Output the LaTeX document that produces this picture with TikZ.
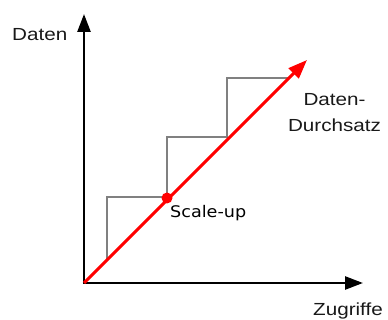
\documentclass[tikz,border=0pt]{standalone}
\usepackage{fontspec}
\usetikzlibrary{arrows.meta}
\newfontfamily\labfont[FakeStretch=1.18]{Liberation Sans}
\newfontfamily\scfont[FakeStretch=1.1]{DejaVu Sans}
\definecolor{stepgray}{HTML}{808080}
\tikzset{
  axis/.style={line width=2.6pt, -{Triangle[length=18pt,width=13pt]}},
  redline/.style={line width=3pt, red, -{Triangle[length=19pt,width=14pt]}},
  stepline/.style={line width=1.4pt, stepgray},
  lab/.style={inner sep=0pt, font=\labfont\fontsize{17.5}{20}\selectfont, text=black!90},
  sclab/.style={inner sep=0pt, font=\scfont\fontsize{16}{19}\selectfont, text=black}
}
\begin{document}
\begin{tikzpicture}[x=1pt,y=-1pt]
\useasboundingbox (0,0) rectangle (388,320);
\coordinate (O) at (84,283);
\coordinate (Y) at (84,14);
\coordinate (X) at (363,283);
\coordinate (R) at (307,60);
\coordinate (s0) at (107,260);
\coordinate (s1) at (107,197);
\coordinate (s2) at (167,197);
\coordinate (s3) at (167,137);
\coordinate (s4) at (227,137);
\coordinate (s5) at (227,78);
\coordinate (s6) at (288,78);
\draw[stepline] (s0) -- (s1) -- (s2) -- (s3) -- (s4) -- (s5) -- (s6);
\draw[axis] (O) -- (Y);
\draw[axis] ([xshift=-1.3pt]O) -- (X);
\draw[redline] (O) -- (R);
\fill[red] (167,198) circle (5.5pt);
\node[lab, anchor=base west] (ylab) at (12,40.7) {Daten};
\node[lab, anchor=base west] (xlab) at (313,316) {Zugriffe};
\node[lab, anchor=base] (d1) at (334.5,106) {Daten-};
\node[lab, anchor=base] (d2) at (334.5,132) {Durchsatz};
\node[sclab, anchor=base west] (sc) at (170,218) {Scale-up};
\end{tikzpicture}
\end{document}
